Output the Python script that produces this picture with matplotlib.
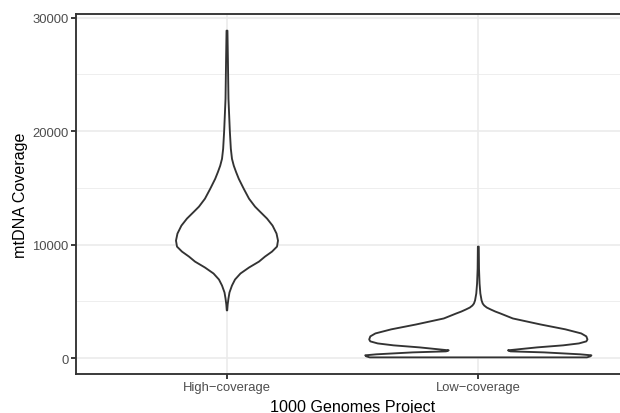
import numpy as np
import matplotlib
matplotlib.use("Agg")
import matplotlib.pyplot as plt
from matplotlib.ticker import MultipleLocator

plt.rcParams["font.family"] = ["Liberation Sans", "DejaVu Sans"]

# categories on the x axis (ggplot renders "-" as a true minus)
groups = ["High\u2212coverage", "Low\u2212coverage"]

# violin outlines: coverage value and relative density
high_cov_y = [4200, 4720, 5250, 5780, 6390, 6920, 7450, 7980, 8500, 8940,
              9380, 9820, 10350, 10970, 11670, 12290, 12900, 13340, 14040,
              14920, 15800, 16400, 16950, 17560, 18440, 20020, 22840, 26360,
              28850]
high_cov_density = [0.002, 0.006, 0.013, 0.022, 0.044, 0.071, 0.119, 0.195,
                    0.283, 0.336, 0.398, 0.442, 0.451, 0.438, 0.403, 0.354,
                    0.292, 0.248, 0.195, 0.148, 0.104, 0.080, 0.060, 0.044,
                    0.034, 0.025, 0.013, 0.008, 0.004]

low_cov_y = [60, 150, 240, 330, 500, 590, 680, 940, 1120, 1290, 1470, 1640,
             1910, 2170, 2530, 2960, 3490, 3930, 4100, 4280, 4450, 4630, 4800,
             5070, 5690, 6570, 7890, 9820]
low_cov_density = [0.96, 0.99, 1.0, 0.90, 0.58, 0.285, 0.262, 0.52, 0.75,
                   0.89, 0.955, 0.965, 0.955, 0.910, 0.770, 0.550, 0.305,
                   0.195, 0.150, 0.110, 0.075, 0.052, 0.039, 0.029, 0.018,
                   0.011, 0.006, 0.004]

series = [(high_cov_y, high_cov_density), (low_cov_y, low_cov_density)]

fig = plt.figure(figsize=(6.2, 4.14), dpi=100)
ax = fig.add_axes([0.1229, 0.0949, 0.8918, 0.8681])

grid_col = "#EBEBEB"
dark = "#333333"

for pos, (ys, dens) in enumerate(series, start=1):
    ys = np.asarray(ys, dtype=float)
    half = np.asarray(dens) * 0.45
    xs = np.r_[pos - half, (pos + half)[::-1]]
    yy = np.r_[ys, ys[::-1]]
    ax.fill(xs, yy, facecolor="white", edgecolor=dark, linewidth=1.35,
            joinstyle="round", zorder=3)

all_y = np.r_[high_cov_y, low_cov_y]
span = all_y.max() - all_y.min()
ax.set_ylim(all_y.min() - 0.05 * span, all_y.max() + 0.05 * span)
ax.set_xlim(0.4, 2.6)

ax.set_xticks([1, 2])
ax.set_xticklabels(groups)
ax.yaxis.set_major_locator(MultipleLocator(10000))
ax.yaxis.set_minor_locator(MultipleLocator(5000))
ax.set_yticklabels([str(int(t)) for t in ax.get_yticks()])

ax.grid(True, which="major", color=grid_col, linewidth=1.2, zorder=0)
ax.grid(True, which="minor", axis="y", color=grid_col, linewidth=0.6, zorder=0)
ax.set_axisbelow(True)

for s in ax.spines.values():
    s.set_color(dark)
    s.set_linewidth(1.35)

ax.tick_params(axis="both", which="major", length=3.3, width=1.35, color=dark,
               labelcolor="#4D4D4D", labelsize=9.4, pad=2.3)
ax.tick_params(axis="y", which="minor", length=0)

ax.set_xlabel("1000 Genomes Project", fontsize=11.6, color="black")
ax.set_ylabel("mtDNA Coverage", fontsize=11.6, color="black")
ax.xaxis.label.set_va("baseline")
ax.xaxis.set_label_coords(0.5, -0.1024)
ax.yaxis.label.set_va("baseline")
ax.yaxis.set_label_coords(-0.0926, 0.5)

fig.savefig("out.png", dpi=100)
